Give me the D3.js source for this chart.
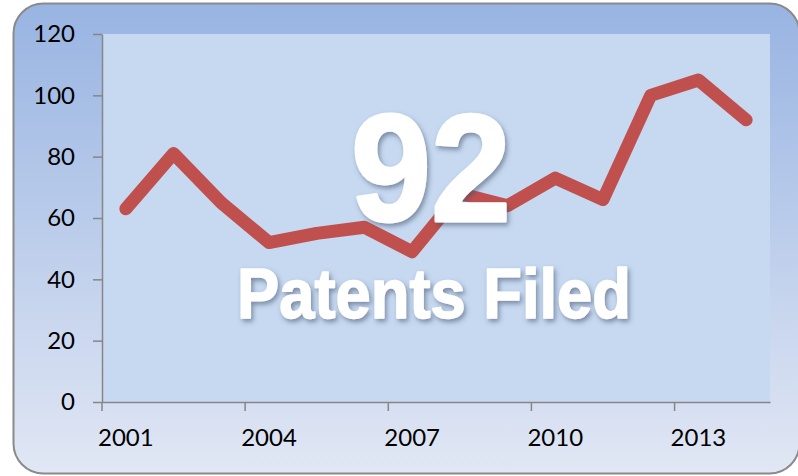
<!DOCTYPE html>
<html>
<meta charset="UTF-8">
<style>
body { margin: 0; background: #fff; }
.axis text { font-family: Lato, "Open Sans", sans-serif; font-size: 24px; fill: #000; }
.axis path, .axis line { stroke: #868686; stroke-width: 1.5px; }
.big { font-family: "Liberation Sans", Arial, sans-serif; font-weight: bold; fill: #fff; stroke: #fff; stroke-linejoin: round; }
</style>
<svg width="798" height="476"></svg>
<script src="https://cdnjs.cloudflare.com/ajax/libs/d3/7.8.5/d3.min.js"></script>
<script>
//	chart data
var years = ["2001","2002","2003","2004","2005","2006","2007","2008","2009","2010","2011","2012","2013","2014"];
var patents = [63, 81, 65, 52, 55, 57, 49, 68, 64, 73, 66, 100, 105, 92];
var yTicks = [0, 20, 40, 60, 80, 100, 120];
var xTickLabels = ["2001","2004","2007","2010","2013"];
var headline = "92";
var subline = "Patents Filed";

var svg = d3.select("svg");

//	plot area bounds
var plotL = 102, plotR = 770, plotT = 34, plotB = 402;

var defs = svg.append("defs");
var grad = defs.append("linearGradient")
	.attr("id", "bg").attr("x1", 0).attr("y1", 0).attr("x2", 0).attr("y2", 1);
grad.append("stop").attr("offset", "0%").attr("stop-color", "#98b4e2");
grad.append("stop").attr("offset", "100%").attr("stop-color", "#e1e7f4");

var shadow = defs.append("filter").attr("id", "shadow")
	.attr("x", "-20%").attr("y", "-20%").attr("width", "140%").attr("height", "140%");
shadow.append("feDropShadow")
	.attr("dx", 2).attr("dy", 3).attr("stdDeviation", 2.5)
	.attr("flood-color", "#3d4d66").attr("flood-opacity", 0.55);

//	outer frame
svg.append("rect")
	.attr("x", 13.5).attr("y", 3.5)
	.attr("width", 786).attr("height", 470)
	.attr("rx", 30).attr("ry", 30)
	.attr("fill", "url(#bg)")
	.attr("stroke", "#8a8a8a").attr("stroke-width", 2);

//	scales
var x = d3.scaleBand().domain(years).range([plotL, plotR]).padding(0);
var y = d3.scaleLinear().domain([0, 120]).range([plotB, plotT]);

//	plot area
svg.append("rect")
	.attr("x", plotL).attr("y", plotT)
	.attr("width", plotR - plotL).attr("height", plotB - plotT)
	.attr("fill", "#c6d9f1");

//	y axis
var yAxis = svg.append("g")
	.attr("class", "axis")
	.attr("transform", "translate(" + plotL + ",0)")
	.call(d3.axisLeft(y).tickValues(yTicks).tickSize(9).tickSizeOuter(0).tickPadding(18));

//	x axis, ticks on category boundaries
var xAxis = svg.append("g")
	.attr("class", "axis")
	.attr("transform", "translate(0," + plotB + ")")
	.call(d3.axisBottom(x).tickValues(xTickLabels).tickSize(9).tickSizeOuter(0).tickPadding(18));
xAxis.selectAll(".tick line")
	.attr("x1", -x.bandwidth() / 2).attr("x2", -x.bandwidth() / 2);

//	line
var line = d3.line()
	.x(function(d, i) { return x(years[i]) + x.bandwidth() / 2; })
	.y(function(d) { return y(d); });

svg.append("path")
	.datum(patents)
	.attr("d", line)
	.attr("fill", "none")
	.attr("stroke", "#c0504d")
	.attr("stroke-width", 13)
	.attr("stroke-linecap", "round")
	.attr("stroke-linejoin", "round");

//	overlay text
svg.append("text")
	.attr("class", "big")
	.attr("x", 431).attr("y", 221)
	.attr("text-anchor", "middle")
	.attr("font-size", 152)
	.attr("stroke-width", 3)
	.attr("textLength", 160).attr("lengthAdjust", "spacingAndGlyphs")
	.attr("filter", "url(#shadow)")
	.text(headline);

svg.append("text")
	.attr("class", "big")
	.attr("x", 434).attr("y", 318)
	.attr("text-anchor", "middle")
	.attr("font-size", 70)
	.attr("stroke-width", 1.5)
	.attr("textLength", 394).attr("lengthAdjust", "spacingAndGlyphs")
	.attr("filter", "url(#shadow)")
	.text(subline);
</script>
